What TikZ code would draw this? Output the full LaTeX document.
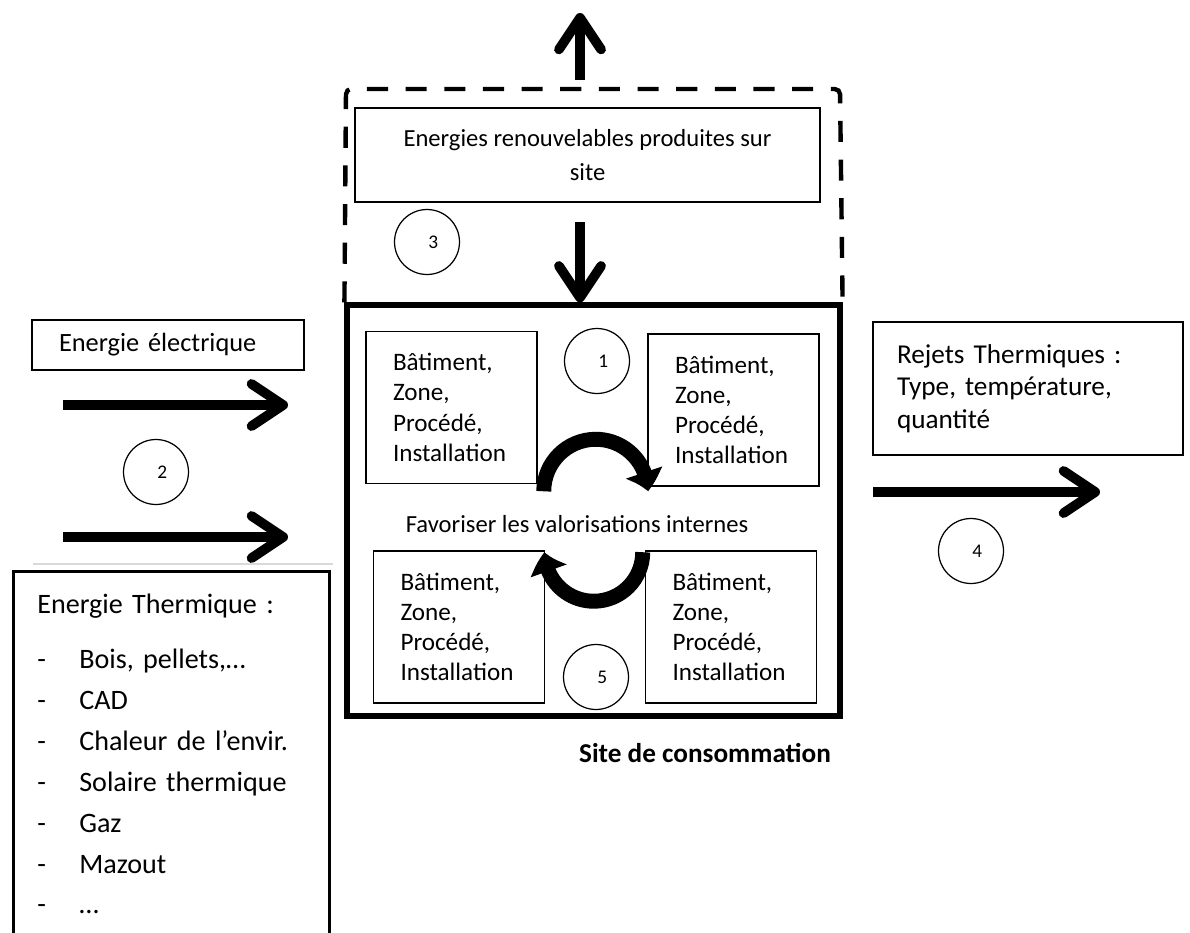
\documentclass[tikz,border=0pt]{standalone}
\usepackage{fontspec}
\setmainfont{Carlito}
\usetikzlibrary{arrows.meta,positioning,bending}
\newcommand{\unittext}{Bâtiment,\\Zone,\\Procédé,\\Installation}
\newcommand{\listentry}[1]{\makebox[0.84cm][l]{-}#1}

\begin{document}
\begin{tikzpicture}[x=0.02cm,y=-0.02cm,
    box/.style={draw, line width=0.9pt, inner sep=0pt},
    unit/.style={box, text width=2.34cm, inner xsep=0.54cm, minimum height=3.04cm, align=left, font=\fontsize{14.3}{17.2}\selectfont},
    num/.style={draw, circle, line width=0.7pt, minimum size=1.3cm, inner sep=0pt, font=\fontsize{11}{13}\selectfont},
    flow/.style={line width=5.5pt, -{Straight Barb[length=18pt,width=24pt,round]}},
    loop/.style={line width=8.5pt, -{Triangle[bend,length=11pt,width=21pt]}}]
      \useasboundingbox (0,0) rectangle (1190,933);
      \clip (0,0) rectangle (1190,933);

      % site de consommation
      \node[box, line width=3pt, minimum width=9.86cm, minimum height=8.22cm] (site) at (593.5,510.5) {};
      \node[font=\bfseries\fontsize{15.5}{18}\selectfont] (sitelabel) at (705,753) {Site de consommation};

      % zone des renouvelables
      \draw[line width=2.5pt, dash pattern=on 12pt off 10pt, rounded corners=3pt] (site.north west) -- (346,89) -- (840,89) -- (site.north east);
      \node[box, minimum width=9.3cm, minimum height=1.88cm, align=center, font=\fontsize{14}{19}\selectfont] (renew) at (587.5,155) {Energies renouvelables produites sur\\site};
      \node[num] (n3) at (427,242) {\hspace{0.25cm}3};
      \coordinate (renewup) at (580,80);
      \coordinate (out) at (580,13);
      \coordinate (renewdown) at (580,222);
      \draw[flow] (renewup) -- (out);
      \draw[flow] (renewdown) -- (renewdown |- site.north);

      % batiments
      \node[unit] (tl) at (451.5,407.5) {\unittext};
      \node[unit] (tr) at (733.5,410) {\unittext};
      \node[unit] (bl) at (459,627) {\unittext};
      \node[unit] (br) at (731,627) {\unittext};
      \node[num] (n1) at (597,361) {\hspace{0.25cm}1};
      \node[num] (n5) at (596,677) {\hspace{0.25cm}5};
      \node[font=\fontsize{14}{17}\selectfont] (fav) at (577,524) {Favoriser les valorisations internes};
      \draw[loop] (tl.south east) ++(6,7) arc[start angle=180, end angle=360, radius=52];
      \draw[loop] (br.north west) ++(-2,2) arc[start angle=0, end angle=180, radius=49];

      % entrees
      \node[box, line width=1.2pt, text width=4.36cm, inner xsep=0.54cm, minimum height=1.0cm, align=left, font=\fontsize{15}{18}\selectfont] (elec) at (168,345) {Energie électrique};
      \coordinate (elecin) at (63,405);
      \coordinate (elecout) at (288,405);
      \draw[flow] (elecin) -- (elecout);
      \node[num] (n2) at (156,472) {\hspace{0.25cm}2};
      \coordinate (thermin) at (63,537);
      \coordinate (thermout) at (288,537);
      \draw[flow] (thermin) -- (thermout);
      \draw[black!15, line width=1pt] (33,564) -- (333,564);
      \node[box, line width=1.5pt, anchor=north west, text width=5.36cm, inner xsep=0.48cm, inner ysep=0.45cm, align=left, font=\fontsize{16}{23.3}\selectfont] (therm) at (12,570) {Energie Thermique :\\[8pt]
        \listentry{Bois, pellets,…}\\
        \listentry{CAD}\\
        \listentry{Chaleur de l’envir.}\\
        \listentry{Solaire thermique}\\
        \listentry{Gaz}\\
        \listentry{Mazout}\\
        \listentry{…}};

      % sortie
      \node[box, line width=1.2pt, minimum width=6.2cm, minimum height=2.66cm, text width=5.24cm, inner xsep=0.48cm, align=left, font=\fontsize{15.5}{18.5}\selectfont] (rejets) at (1028,388.5) {Rejets Thermiques :\\Type, température,\\quantité};
      \coordinate (rejin) at (873,492);
      \coordinate (rejout) at (1100,492);
      \draw[flow] (rejin) -- (rejout);
      \node[num] (n4) at (971,551) {\hspace{0.25cm}4};
\end{tikzpicture}
\end{document}
